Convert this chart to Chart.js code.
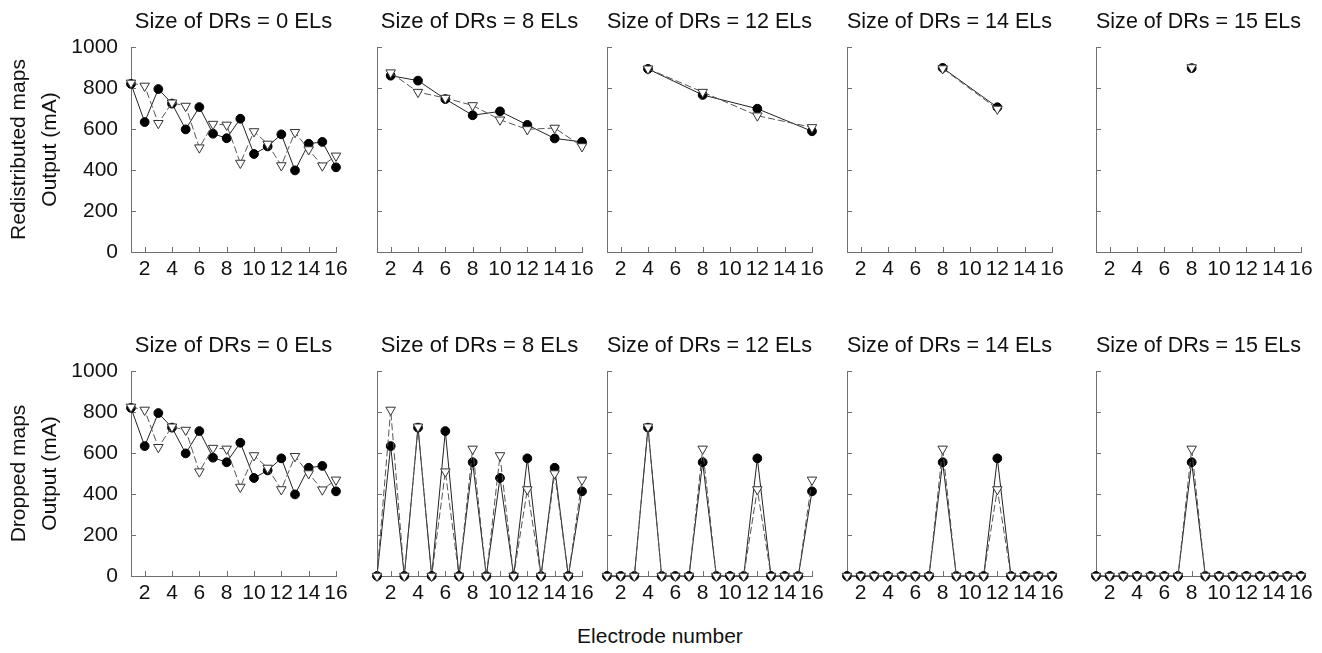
<!DOCTYPE html>
<html>
<head>
<meta charset="utf-8">
<script src="https://cdn.jsdelivr.net/npm/chart.js@4.4.1/dist/chart.umd.min.js"></script>
<style>
body { margin: 0; background: #fff; }
#wrap { position: relative; width: 1322px; height: 653px; overflow: hidden; }
#wrap canvas { position: absolute; }
#xlabel { position: absolute; left: 510px; width: 300px; top: 624px; text-align: center;
  font: 21px 'Liberation Sans', Arial, sans-serif; color: #111; }
</style>
</head>
<body>
<div id="wrap"><div id="xlabel">Electrode number</div></div>
<script>
// electrodes and axis ticks
var electrodes = [1, 2, 3, 4, 5, 6, 7, 8, 9, 10, 11, 12, 13, 14, 15, 16];
var xTicks = [2, 4, 6, 8, 10, 12, 14, 16];
var yTicks = [0, 200, 400, 600, 800, 1000];
var drSizes = [0, 8, 12, 14, 15];
var rowNames = ['Redistributed maps', 'Dropped maps'];

// Redistributed maps (null = electrode not in the map)
var redistDot0 = [820, 634, 795, 724, 598, 707, 577, 555, 650, 478, 515, 574, 398, 528, 537, 413];
var redistTri0 = [825, 810, 628, 728, 712, 509, 624, 620, 434, 588, 527, 422, 584, 500, 421, 469];
var redistDot8 = [null, 860, null, 836, null, 746, null, 667, null, 686, null, 620, null, 554, null, 537];
var redistTri8 = [null, 875, null, 780, null, 751, null, 715, null, 645, null, 598, null, 605, null, 515];
var redistDot12 = [null, null, null, 893, null, null, null, 766, null, null, null, 699, null, null, null, 589];
var redistTri12 = [null, null, null, 894, null, null, null, 780, null, null, null, 665, null, null, null, 608];
var redistDot14 = [null, null, null, null, null, null, null, 898, null, null, null, 706, null, null, null, null];
var redistTri14 = [null, null, null, null, null, null, null, 895, null, null, null, 698, null, null, null, null];
var redistDot15 = [null, null, null, null, null, null, null, 897, null, null, null, null, null, null, null, null];
var redistTri15 = [null, null, null, null, null, null, null, 900, null, null, null, null, null, null, null, null];

// Dropped maps
var dropDot0 = [820, 634, 795, 724, 598, 707, 577, 555, 650, 478, 515, 574, 398, 528, 537, 413];
var dropTri0 = [825, 810, 628, 728, 712, 509, 624, 620, 434, 588, 527, 422, 584, 500, 421, 469];
var dropDot8 = [0, 634, 0, 724, 0, 707, 0, 555, 0, 478, 0, 574, 0, 528, 0, 413];
var dropTri8 = [0, 810, 0, 728, 0, 509, 0, 620, 0, 588, 0, 422, 0, 500, 0, 469];
var dropDot12 = [0, 0, 0, 724, 0, 0, 0, 555, 0, 0, 0, 574, 0, 0, 0, 413];
var dropTri12 = [0, 0, 0, 728, 0, 0, 0, 620, 0, 0, 0, 422, 0, 0, 0, 469];
var dropDot14 = [0, 0, 0, 0, 0, 0, 0, 555, 0, 0, 0, 574, 0, 0, 0, 0];
var dropTri14 = [0, 0, 0, 0, 0, 0, 0, 620, 0, 0, 0, 422, 0, 0, 0, 0];
var dropDot15 = [0, 0, 0, 0, 0, 0, 0, 555, 0, 0, 0, 0, 0, 0, 0, 0];
var dropTri15 = [0, 0, 0, 0, 0, 0, 0, 620, 0, 0, 0, 0, 0, 0, 0, 0];

var panels = [
  [[redistDot0, redistTri0], [redistDot8, redistTri8], [redistDot12, redistTri12], [redistDot14, redistTri14], [redistDot15, redistTri15]],
  [[dropDot0, dropTri0], [dropDot8, dropTri8], [dropDot12, dropTri12], [dropDot14, dropTri14], [dropDot15, dropTri15]]
];

// layout
var axisX = [131, 377, 607, 847, 1096];
var rowTop = [11, 335];
var plotW = 205, padR = 65;
var axisGray = '#707070';
var textCol = '#111';

Chart.defaults.font.family = "'Liberation Sans', Arial, sans-serif";
Chart.defaults.color = textCol;

// tick marks pointing into the plot
var innerTicks = {
  id: 'innerTicks',
  beforeDatasetsDraw: function(chart) {
    var ctx = chart.ctx, area = chart.chartArea, sx = chart.scales.x, sy = chart.scales.y;
    ctx.save();
    ctx.strokeStyle = axisGray;
    ctx.lineWidth = 1;
    ctx.beginPath();
    sy.ticks.forEach(function(t) {
      var py = Math.round(sy.getPixelForValue(t.value)) + 0.5;
      ctx.moveTo(area.left, py);
      ctx.lineTo(area.left + 5, py);
    });
    sx.ticks.forEach(function(t) {
      var px = Math.round(sx.getPixelForValue(t.value)) + 0.5;
      ctx.moveTo(px, area.bottom);
      ctx.lineTo(px, area.bottom - 5);
    });
    ctx.stroke();
    ctx.restore();
  }
};

function toPoints(vals) {
  return electrodes.map(function(e, i) { return {x: e, y: vals[i]}; });
}

var wrap = document.getElementById('wrap');

function makePanel(row, col) {
  var first = col === 0;
  var yw = first ? axisX[0] : 65;
  var canvas = document.createElement('canvas');
  canvas.width = yw + plotW + padR;
  canvas.height = 281;
  canvas.style.left = (axisX[col] - yw) + 'px';
  canvas.style.top = rowTop[row] + 'px';
  wrap.appendChild(canvas);

  var dots = panels[row][col][0], tris = panels[row][col][1];

  new Chart(canvas, {
    type: 'line',
    data: {
      datasets: [{
        label: 'triangles',
        data: toPoints(tris),
        borderColor: '#555',
        borderWidth: 1,
        borderDash: [7, 3],
        pointStyle: 'triangle',
        rotation: 180,
        pointRadius: 5.5,
        pointBackgroundColor: '#fff',
        pointBorderColor: '#333',
        pointBorderWidth: 1,
        spanGaps: true,
        clip: false
      }, {
        label: 'circles',
        data: toPoints(dots),
        borderColor: '#222',
        borderWidth: 1,
        pointStyle: 'circle',
        pointRadius: 4.4,
        pointBackgroundColor: '#000',
        pointBorderColor: '#000',
        spanGaps: true,
        clip: false
      }]
    },
    options: {
      responsive: false,
      animation: false,
      layout: { padding: { left: 0, right: padR, top: 0, bottom: 0 } },
      plugins: {
        legend: { display: false },
        tooltip: { enabled: false },
        title: {
          display: true,
          fullSize: false,
          text: 'Size of DRs = ' + drSizes[col] + ' ELs',
          font: { size: 22, weight: 'normal', lineHeight: 1 },
          color: textCol,
          padding: { top: 0, bottom: 14 }
        }
      },
      scales: {
        x: {
          type: 'linear',
          min: 1,
          max: 16,
          grid: { display: false, drawTicks: false },
          border: { display: true, color: axisGray, width: 1 },
          ticks: { autoSkip: false, maxRotation: 0, padding: 5, color: textCol, font: { size: 21 },
            callback: function(v) { return String(v); } },
          afterBuildTicks: function(s) { s.ticks = xTicks.map(function(v) { return {value: v}; }); },
          afterFit: function(s) { s.height = 40; }
        },
        y: {
          min: 0,
          max: 1000,
          grid: { display: false, drawTicks: false },
          border: { display: true, color: axisGray, width: 1 },
          ticks: { display: first, padding: 13, color: textCol, font: { size: 21 },
            callback: function(v) { return String(v); } },
          afterBuildTicks: function(s) { s.ticks = yTicks.map(function(v) { return {value: v}; }); },
          afterFit: function(s) { s.width = yw; },
          title: {
            display: first,
            text: [rowNames[row], 'Output (mA)'],
            color: textCol,
            font: { size: 21, lineHeight: 1.48 },
            padding: { top: 4, bottom: 0 }
          }
        }
      }
    },
    plugins: [innerTicks]
  });
}

for (var r = 0; r < 2; r++) {
  for (var c = 0; c < 5; c++) makePanel(r, c);
}
</script>
</body>
</html>
